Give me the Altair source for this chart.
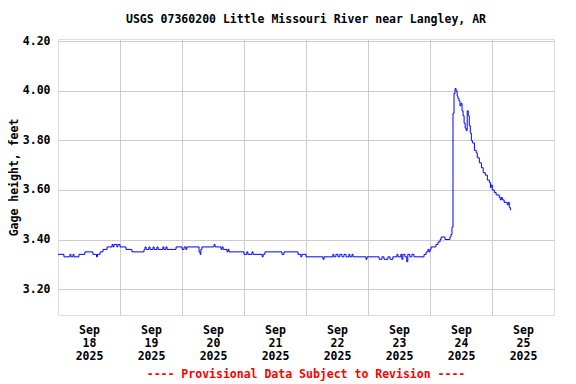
import altair as alt
import pandas as pd

title_text = "USGS 07360200 Little Missouri River near Langley, AR"
y_title = "Gage height, feet"
footer_text = ["---- Provisional Data Subject to Revision ----"]

# hours after 2025-09-18 00:00 (local) and gage height (ft), step changes
hours = [
    0.0, 2.3, 4.6, 5.0, 5.8, 6.2, 8.1, 10.4, 13.5, 14.9, 15.3, 16.3, 17.4, 19.0,
    20.9, 21.3, 21.7, 22.8, 23.2, 24.0, 26.3, 28.6, 33.3, 33.7, 34.1, 35.2, 35.6,
    36.8, 37.2, 38.3, 38.7, 40.6, 41.0, 41.8, 42.2, 45.7, 48.0, 48.8, 49.5, 49.9,
    54.6, 55.0, 55.3, 55.7, 60.4, 60.8, 63.1, 63.5, 63.9, 65.4, 65.8, 66.2, 72.0,
    73.1, 73.5, 75.1, 75.5, 79.0, 79.4, 80.1, 86.7, 87.5, 92.9, 94.0, 94.4, 96.0,
    102.6, 103.0, 106.4, 106.8, 107.6, 108.4, 109.1, 109.9, 110.7, 111.5, 112.6,
    113.0, 113.8, 114.2, 119.2, 119.6, 124.3, 125.4, 126.2, 127.7, 128.5, 129.6,
    131.2, 131.6, 132.7, 133.1, 133.5, 134.3, 135.0, 135.4, 136.2, 137.0, 137.8,
    141.7, 142.5, 143.2, 143.6, 144.0, 144.4, 146.3, 147.1, 147.9, 148.3, 149.8,
    151.7, 152.1, 152.5, 152.9, 153.3, 153.7, 154.1, 154.5, 154.8, 155.2, 155.6,
    156.0, 156.4, 156.8, 157.2, 157.6, 158.0, 158.4, 158.8, 159.2, 159.6, 160.0,
    160.4, 161.2, 161.9, 162.3, 163.1, 163.9, 164.6, 165.4, 166.2, 167.0, 167.4,
    167.7, 168.1, 168.9, 169.6, 170.8, 171.2, 171.6, 172.0, 172.7, 173.9, 174.3,
    174.7, 175.1, 175.4,
]
gage = [
    3.34, 3.33, 3.34, 3.33, 3.34, 3.33, 3.34, 3.35, 3.34, 3.33, 3.34, 3.35, 3.36, 3.37,
    3.38, 3.37, 3.38, 3.37, 3.38, 3.37, 3.36, 3.35, 3.36, 3.37, 3.36, 3.37, 3.36,
    3.37, 3.36, 3.37, 3.36, 3.37, 3.36, 3.37, 3.36, 3.37, 3.36, 3.37, 3.36, 3.37,
    3.35, 3.34, 3.36, 3.37, 3.38, 3.37, 3.36, 3.37, 3.36, 3.35, 3.36, 3.35, 3.34,
    3.35, 3.34, 3.35, 3.34, 3.33, 3.34, 3.35, 3.34, 3.35, 3.34, 3.33, 3.34, 3.33,
    3.32, 3.33, 3.34, 3.33, 3.34, 3.33, 3.34, 3.33, 3.34, 3.33, 3.34,
    3.33, 3.34, 3.33, 3.32, 3.33, 3.32, 3.33, 3.32, 3.33, 3.32, 3.33,
    3.34, 3.33, 3.34, 3.32, 3.34, 3.33, 3.31, 3.34, 3.33, 3.34, 3.33,
    3.34, 3.35, 3.36, 3.35, 3.36, 3.37, 3.38, 3.39, 3.40, 3.41, 3.40,
    3.41, 3.42, 3.45, 3.91, 3.99, 4.01, 4.00, 3.98, 3.97, 3.96, 3.94,
    3.95, 3.92, 3.90, 3.87, 3.85, 3.84, 3.92, 3.90, 3.86, 3.83, 3.80,
    3.79, 3.76, 3.75, 3.73, 3.71, 3.69, 3.67, 3.66, 3.64, 3.63, 3.61,
    3.62, 3.60, 3.59, 3.58, 3.57, 3.56, 3.57, 3.56, 3.55, 3.54, 3.55,
    3.53, 3.52, 3.52,
]
y_ticks = [3.20, 3.40, 3.60, 3.80, 4.00, 4.20]
x_days = [18, 19, 20, 21, 22, 23, 24, 25]

start = pd.Timestamp("2025-09-18 00:00:00")
df = pd.DataFrame({
    "time": [start + pd.Timedelta(hours=h) for h in hours],
    "gage": gage,
})

FONT = "DejaVu Sans Mono"
FS = 11.5

x_axis = alt.Axis(
    values=[alt.DateTime(year=2025, month=9, date=d) for d in x_days],
    labelExpr="[timeFormat(datum.value, '%b'), timeFormat(datum.value, '%d'), timeFormat(datum.value, '%Y')]",
    labelOffset=31,
    labelAlign="center",
    labelBaseline="top",
    labelLineHeight=13,
    labelPadding=9,
    labelOverlap=False,
    labelFlush=False,
    labelBound=False,
    ticks=False,
    domain=False,
    grid=True,
    gridColor="#cccccc",
    gridWidth=1,
    gridOpacity={"condition": {"test": "datum.value <= time(datetime(2025, 8, 18, 1))", "value": 0}, "value": 1},
    labelFont=FONT,
    labelFontSize=FS,
    labelFontWeight="bold",
    labelColor="black",
    title=None,
)

y_axis = alt.Axis(
    values=y_ticks,
    format=".2f",
    ticks=False,
    domain=False,
    grid=True,
    gridColor="#cccccc",
    gridWidth=1,
    labelPadding=8,
    labelFont=FONT,
    labelFontSize=FS,
    labelFontWeight="bold",
    labelColor="black",
    title=y_title,
    titleFont=FONT,
    titleFontSize=FS,
    titleFontWeight="bold",
    titleColor="black",
    titlePadding=3,
)

line = alt.Chart(df).mark_line(color="#0000ff", strokeWidth=1, interpolate="step-after").encode(
    x=alt.X("time:T", axis=x_axis,
            scale=alt.Scale(domain=[alt.DateTime(year=2025, month=9, date=18),
                                    alt.DateTime(year=2025, month=9, date=26)], nice=False)),
    y=alt.Y("gage:Q", axis=y_axis, scale=alt.Scale(domain=[3.095, 4.21], nice=False, zero=False)),
)

footer = alt.Chart(pd.DataFrame({"t": footer_text})).mark_text(
    color="#ff0000", font=FONT, fontSize=FS, fontWeight="bold", align="center", baseline="middle"
).encode(text="t:N", x=alt.value(248), y=alt.value(336))

chart = alt.layer(line, footer).properties(
    width=496,
    height=276,
    autosize=alt.AutoSizeParams(type="none"),
    padding={"left": 50, "top": 31, "right": 14, "bottom": 66},
    title=alt.TitleParams(text=title_text, font=FONT, fontSize=FS, fontWeight="bold",
                          color="black", anchor="middle", frame="group", offset=10),
).configure_view(stroke="black", strokeWidth=1).configure(background="white")

chart.save("out.html", embed_options={"renderer": "svg", "actions": False})
